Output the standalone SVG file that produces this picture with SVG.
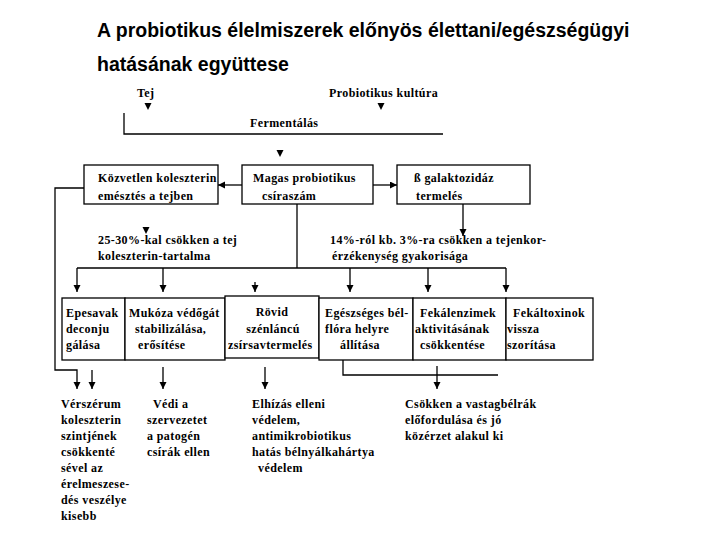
<svg xmlns="http://www.w3.org/2000/svg" width="720" height="540" viewBox="0 0 720 540">
<style>
.title{font-family:"Liberation Sans",Arial,sans-serif;font-weight:bold;font-size:19.5px;fill:#000}
.t{font-family:"Liberation Serif","Times New Roman",serif;font-weight:bold;font-size:12px;letter-spacing:0.4px;fill:#000}
.m{text-anchor:middle}
.box{fill:#fff;stroke:#000;stroke-width:1.3}
.ln{fill:none;stroke:#000;stroke-width:1.3}
.head{fill:#000}
</style>
<defs>
<marker id="arr" markerUnits="userSpaceOnUse" markerWidth="8" markerHeight="8" refX="7" refY="3.5" orient="auto">
<path d="M0,0 L7,3.5 L0,7 z" fill="#000"/>
</marker>
</defs>
<rect width="720" height="540" fill="#fff"/>
<g id="title">
<text class="title" x="97" y="37">A probiotikus élelmiszerek előnyös élettani/egészségügyi</text>
<text class="title" x="97" y="71">hatásának együttese</text>
</g>
<g id="connectors">
<polygon class="head" points="144.5,103 151.5,103 148,110"/>
<polygon class="head" points="377.5,103 384.5,103 381,110"/>
<path class="ln" d="M124,113 V134 H443"/>
<polygon class="head" points="276.5,150 283.5,150 280,157"/>
<path class="ln" d="M242,185 H218" marker-end="url(#arr)"/>
<path class="ln" d="M373,185 H397" marker-end="url(#arr)"/>
<path class="ln" d="M84,188 H55 V370 H77 V389" marker-end="url(#arr)"/>
<path class="ln" d="M92,370 V389" marker-end="url(#arr)"/>
<polygon class="head" points="142.5,227 149.5,227 146,234"/>
<path class="ln" d="M463,204 V236" marker-end="url(#arr)"/>
<path class="ln" d="M297,204 V268"/>
<path class="ln" d="M77,268 H506"/>
<path class="ln" d="M77,268 V292" marker-end="url(#arr)"/>
<path class="ln" d="M163,268 V292" marker-end="url(#arr)"/>
<path class="ln" d="M255,282 V292" marker-end="url(#arr)"/>
<path class="ln" d="M350,268 V292" marker-end="url(#arr)"/>
<path class="ln" d="M428,268 V292" marker-end="url(#arr)"/>
<path class="ln" d="M506,268 V292" marker-end="url(#arr)"/>
<path class="ln" d="M163,367 V389" marker-end="url(#arr)"/>
<path class="ln" d="M265,367 V389" marker-end="url(#arr)"/>
<path class="ln" d="M343,360 V375 H498"/>
<path class="ln" d="M437,366 V389" marker-end="url(#arr)"/>
</g>
<g id="tej"><text class="t" x="137" y="97">Tej</text></g>
<g id="kultura"><text class="t" x="329" y="97">Probiotikus kultúra</text></g>
<g id="fermentalas"><text class="t" x="250" y="127">Fermentálás</text></g>
<g id="kozvetlen">
<rect class="box" x="84" y="165" width="134" height="39"/>
<text class="t" x="98" y="182">Közvetlen koleszterin</text>
<text class="t" x="98" y="200">emésztés a tejben</text>
</g>
<g id="magas">
<rect class="box" x="242" y="165" width="131" height="39"/>
<text class="t" x="253" y="182">Magas probiotikus</text>
<text class="t" x="262" y="200">csíraszám</text>
</g>
<g id="galaktozidaz">
<rect class="box" x="397" y="165" width="133" height="39"/>
<text class="t" x="414" y="182">ß galaktozidáz</text>
<text class="t" x="416" y="200">termelés</text>
</g>
<g id="koleszterin-tartalom">
<text class="t" x="98" y="244">25-30%-kal csökken a tej</text>
<text class="t" x="98" y="260">koleszterin-tartalma</text>
</g>
<g id="tejenkor">
<text class="t" x="330" y="244">14%-ról kb. 3%-ra csökken a tejenkor-</text>
<text class="t" x="332" y="260">érzékenység gyakorisága</text>
</g>
<g id="epesavak">
<rect class="box" x="62" y="298" width="63" height="62"/>
<text class="t" x="66" y="317">Epesavak</text>
<text class="t" x="66" y="333">deconju</text>
<text class="t" x="66" y="349">gálása</text>
</g>
<g id="mukoza">
<rect class="box" x="125" y="298" width="100" height="62"/>
<text class="t" x="129" y="317">Mukóza védőgát</text>
<text class="t" x="135" y="333">stabilizálása,</text>
<text class="t" x="138" y="349">erősítése</text>
</g>
<g id="rovid">
<rect class="box" x="225" y="296" width="94" height="62"/>
<text class="t m" x="272" y="316">Rövid</text>
<text class="t m" x="273" y="333">szénláncú</text>
<text class="t" x="228" y="349">zsírsavtermelés</text>
</g>
<g id="belflora">
<rect class="box" x="319" y="298" width="94" height="62"/>
<text class="t" x="325" y="317">Egészséges bél-</text>
<text class="t" x="325" y="333">flóra helyre</text>
<text class="t" x="340" y="349">állítása</text>
</g>
<g id="fekalenzimek">
<rect class="box" x="413" y="298" width="93" height="62"/>
<text class="t" x="420" y="317">Fekálenzimek</text>
<text class="t" x="415" y="333">aktivitásának</text>
<text class="t" x="420" y="349">csökkentése</text>
</g>
<g id="fekaltoxinok">
<rect class="box" x="506" y="298" width="87" height="62"/>
<text class="t" x="513" y="317">Fekáltoxinok</text>
<text class="t" x="507" y="333">vissza</text>
<text class="t" x="507" y="349">szorítása</text>
</g>
<g id="verszerum">
<text class="t" x="61" y="408">Vérszérum</text>
<text class="t" x="61" y="424">koleszterin</text>
<text class="t" x="61" y="440">szintjének</text>
<text class="t" x="61" y="456">csökkenté</text>
<text class="t" x="61" y="472">sével az</text>
<text class="t" x="61" y="488">érelmeszese-</text>
<text class="t" x="61" y="504">dés veszélye</text>
<text class="t" x="61" y="520">kisebb</text>
</g>
<g id="vedi">
<text class="t" x="153" y="408">Védi a</text>
<text class="t" x="147" y="424">szervezetet</text>
<text class="t" x="147" y="440">a patogén</text>
<text class="t" x="147" y="456">csírák ellen</text>
</g>
<g id="elhizas">
<text class="t" x="252" y="408">Elhízás elleni</text>
<text class="t" x="252" y="424">védelem,</text>
<text class="t" x="252" y="440">antimikrobiotikus</text>
<text class="t" x="252" y="456">hatás bélnyálkahártya</text>
<text class="t" x="258" y="472">védelem</text>
</g>
<g id="vastagbelrak">
<text class="t" x="405" y="408">Csökken a vastagbélrák</text>
<text class="t" x="405" y="424">előfordulása és jó</text>
<text class="t" x="405" y="440">közérzet alakul ki</text>
</g>
</svg>
